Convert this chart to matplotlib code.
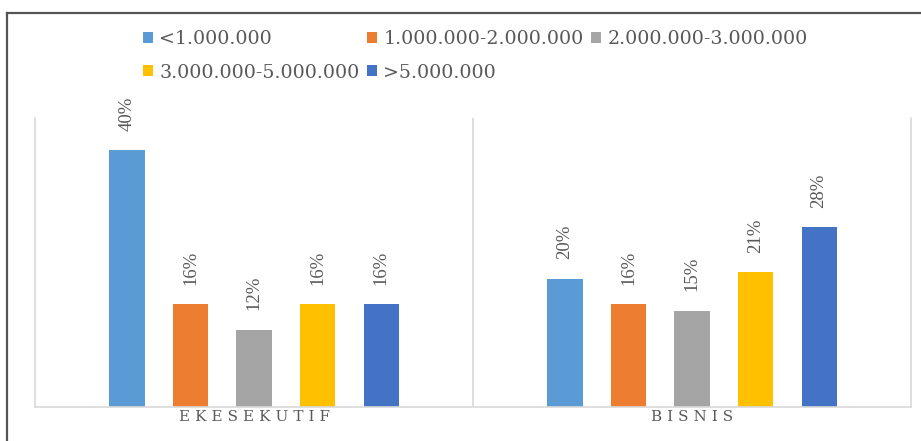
import numpy as np
import matplotlib.pyplot as plt
from matplotlib.lines import Line2D
from matplotlib.patches import Patch

# data (percent)
categories = ["EKESEKUTIF", "BISNIS"]
series_names = ["<1.000.000", "1.000.000-2.000.000", "2.000.000-3.000.000",
                "3.000.000-5.000.000", ">5.000.000"]
below_1m = [40, 20]
from_1m_to_2m = [16, 16]
from_2m_to_3m = [12, 15]
from_3m_to_5m = [16, 21]
above_5m = [16, 28]

colors = ["#5B9BD5", "#ED7D31", "#A5A5A5", "#FFC000", "#4472C4"]
text_gray = "#595959"
grid_gray = "#D9D9D9"

plt.rcParams['font.family'] = ['DejaVu Serif']

fig = plt.figure(figsize=(9.21, 4.41), dpi=100)
ax = fig.add_axes([35 / 921, 1 - 407 / 441, 876 / 921, 289 / 441])

values = [below_1m, from_1m_to_2m, from_2m_to_3m, from_3m_to_5m, above_5m]
x = np.arange(len(categories))
step = 0.145
width = 0.08
for i, (vals, col) in enumerate(zip(values, colors)):
    bars = ax.bar(x + (i - 2) * step, vals, width, color=col, label=series_names[i])
    ax.bar_label(bars, labels=[f"{v}%" for v in vals], rotation=90,
                 padding=14, fontsize=13.5, color=text_gray,
                 family=['Liberation Serif', 'DejaVu Serif'])

ax.set_xlim(-0.5, 1.5)
ax.set_ylim(0, 45)
ax.set_yticks([])
ax.set_xticks([])
for s in ["left", "right", "bottom"]:
    ax.spines[s].set_color(grid_gray)
    ax.spines[s].set_linewidth(1.2)
ax.spines["top"].set_visible(False)
ax.axvline(0.5, color=grid_gray, lw=1.2)

# category labels, letter-spaced like the original
for xi, name in zip(x, categories):
    ax.text(xi, -10 / 289, "\u2004".join(name), ha="center", va="center",
            fontsize=11, color=text_gray, transform=ax.get_xaxis_transform())

# legend in row order: 3 columns, 2 rows
handles = [Patch(facecolor=c, edgecolor="none") for c in colors]
order = [0, 3, 1, 4, 2]
fig.legend([handles[k] for k in order], [series_names[k] for k in order],
           ncol=3, loc="upper left", bbox_to_anchor=(143 / 921, 1 - 30 / 441),
           frameon=False, fontsize=13.7, labelcolor=text_gray,
           handlelength=0.5, handleheight=0.5, handletextpad=0.35,
           columnspacing=0.4, labelspacing=0.82, borderpad=0, borderaxespad=0)

# dark outer border (top and left edges visible in the crop)
fig.add_artist(Line2D([7 / 921, 7 / 921], [0, 1 - 13 / 441], color="#555555", lw=1.6,
                      transform=fig.transFigure))
fig.add_artist(Line2D([7 / 921, 1], [1 - 13 / 441, 1 - 13 / 441], color="#555555", lw=1.6,
                      transform=fig.transFigure))

fig.savefig("out.png", dpi=100)
